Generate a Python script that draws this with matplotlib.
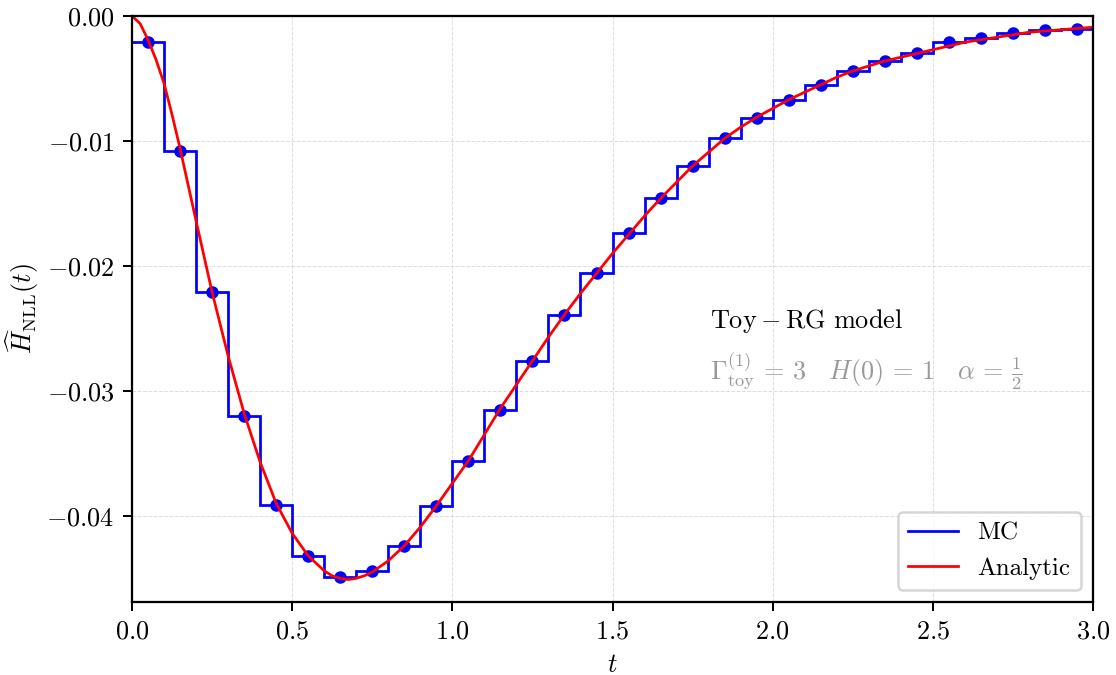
import numpy as np
from matplotlib import pyplot as plt

plt.rcParams['font.family'] = 'serif'
plt.rcParams['font.serif'] = ['cmr10']
plt.rcParams['mathtext.fontset'] = 'cm'
plt.rcParams['axes.formatter.use_mathtext'] = True
plt.rcParams['axes.unicode_minus'] = True
plt.rcParams['font.size'] = 10.5

# MC histogram: 30 bins of width 0.1 on [0, 3]
bin_edges = np.linspace(0.0, 3.0, 31)
bin_centers = 0.5 * (bin_edges[:-1] + bin_edges[1:])
mc_values = [-0.00205, -0.0108, -0.0221, -0.0320, -0.0391, -0.0432, -0.0449, -0.0444,
             -0.0424, -0.0392, -0.0356, -0.0315, -0.0276, -0.0239, -0.0206, -0.0174,
             -0.0146, -0.0120, -0.0098, -0.0082, -0.0067, -0.0055, -0.0044, -0.0036,
             -0.0030, -0.0021, -0.0018, -0.0014, -0.0011, -0.00104]

# analytic curve
t_analytic = [0.0, 0.025, 0.05, 0.075, 0.1, 0.125, 0.15, 0.2, 0.25, 0.3, 0.35, 0.4,
              0.45, 0.5, 0.55, 0.6, 0.625, 0.65, 0.675, 0.7, 0.725, 0.75, 0.8, 0.85,
              0.9, 0.95, 1.0,
              1.05, 1.1, 1.15, 1.2, 1.25, 1.3, 1.35, 1.4, 1.45, 1.5, 1.55, 1.6,
              1.65, 1.7, 1.75, 1.8, 1.85, 1.9, 1.95, 2.0, 2.05, 2.1, 2.15, 2.2,
              2.25, 2.3, 2.35, 2.4, 2.45, 2.5, 2.55, 2.6, 2.65, 2.7, 2.75, 2.8,
              2.85, 2.9, 2.95, 3.0]
h_analytic = [0.0, -0.0006, -0.0019, -0.0035, -0.0054, -0.0079, -0.0106, -0.0164,
              -0.0221, -0.0272, -0.0318, -0.0357, -0.0390, -0.0414, -0.0432, -0.0444,
              -0.0448, -0.0450, -0.0451, -0.0450, -0.0448, -0.0445, -0.0436, -0.0424,
              -0.0409, -0.0392, -0.0374,
              -0.0356, -0.0335, -0.0314, -0.0295, -0.0276, -0.0257, -0.0239, -0.0222,
              -0.0206, -0.0190, -0.0175, -0.0160, -0.0146, -0.0133, -0.0120, -0.0109,
              -0.0098, -0.0089, -0.0081, -0.0074, -0.0067, -0.0061, -0.0055, -0.0049,
              -0.0044, -0.0040, -0.0036, -0.0033, -0.0030, -0.0027, -0.0024, -0.0021,
              -0.0019, -0.0017, -0.0015, -0.0013, -0.0012, -0.0011, -0.0010, -0.0009]

fig = plt.figure(figsize=(6.2, 3.75), dpi=180)
ax = fig.add_axes([0.1183, 0.1081, 0.8611, 0.8682])
ax.set_axisbelow(True)

ax.stairs(mc_values, bin_edges, baseline=None, color='blue', lw=1.1, label='MC')
ax.plot(bin_centers, mc_values, 'o', color='blue', ms=4)
ax.plot(t_analytic, h_analytic, color='red', lw=1.1, label='Analytic')

ax.set_xlim(0, 3.0)
ax.set_ylim(-0.0469, 0.0)
ax.set_yticks([0.0, -0.01, -0.02, -0.03, -0.04])
ax.yaxis.set_major_formatter(plt.FuncFormatter(lambda v, p: '$%.2f$' % v if v != 0 else '$0.00$'))
ax.xaxis.set_major_formatter(plt.FuncFormatter(lambda v, p: '$%.1f$' % v))
ax.grid(True, ls='--', lw=0.4, color='#dddddd')
for s in ax.spines.values():
    s.set_linewidth(0.9)

ax.set_xlabel(r'$t$')
ax.set_ylabel(r'$\widehat{H}_{\rm NLL}(t)$', labelpad=2)

ax.text(0.601, 0.48, r'$\mathrm{Toy-RG\ model}$', transform=ax.transAxes,
        ha='left', va='center', fontsize=10.5)
ax.text(0.601, 0.395,
        r'$\Gamma^{(1)}_{\rm toy}\,=\,3\quad H(0)\,=\,1\quad \alpha\,=\,\frac{1}{2}$',
        transform=ax.transAxes, ha='left', va='center', fontsize=10.5, color='#999999')

ax.legend(loc='lower right', fontsize=10, fancybox=True, framealpha=0.8,
          edgecolor='#cccccc', handlelength=2.0)

fig.savefig('out.png', dpi=180)
